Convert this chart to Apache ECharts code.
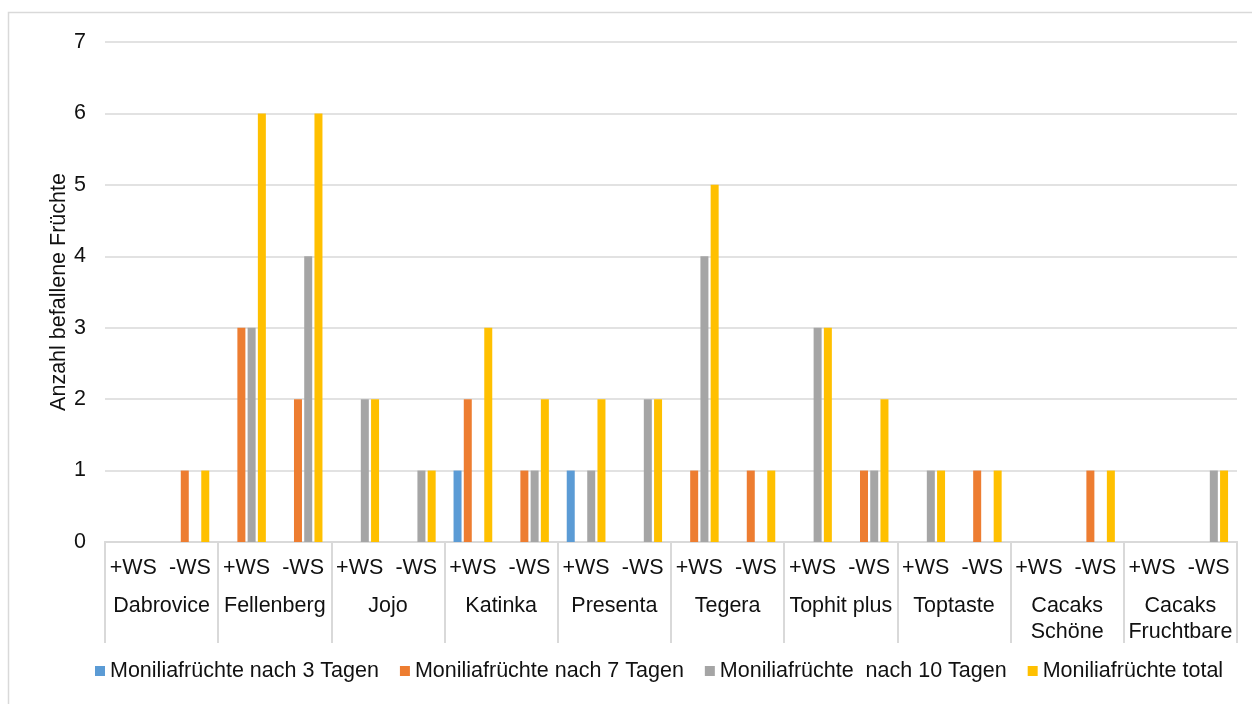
<!DOCTYPE html>
<html>
<head>
<meta charset="utf-8">
<script src="https://cdn.jsdelivr.net/npm/echarts@6/dist/echarts.min.js"></script>
<style>
  html, body { margin: 0; padding: 0; background: #fff; }
  #chart { width: 1252px; height: 704px; }
</style>
</head>
<body>
<div id="chart"></div>
<script>
// Varieties (outer category level) and treatments (inner level)
const varieties = ['Dabrovice', 'Fellenberg', 'Jojo', 'Katinka', 'Presenta', 'Tegera',
  'Tophit plus', 'Toptaste', 'Cacaks\nSchöne', 'Cacaks\nFruchtbare'];
const treatments = ['+WS', '-WS'];

// Inner category labels: one per variety x treatment
const categories = [];
varieties.forEach(() => treatments.forEach(t => categories.push(t)));

// Number of infested fruits, in order Dabrovice +WS, Dabrovice -WS, Fellenberg +WS, ...
const after3Days  = [0, 0, 0, 0, 0, 0, 1, 0, 1, 0, 0, 0, 0, 0, 0, 0, 0, 0, 0, 0];
const after7Days  = [0, 1, 3, 2, 0, 0, 2, 1, 0, 0, 1, 1, 0, 1, 0, 1, 0, 1, 0, 0];
const after10Days = [0, 0, 3, 4, 2, 1, 0, 1, 1, 2, 4, 0, 3, 1, 1, 0, 0, 0, 0, 1];
const totalFruits = [0, 1, 6, 6, 2, 1, 3, 2, 2, 2, 5, 1, 3, 2, 1, 1, 0, 1, 0, 1];

const seriesNames = ['Moniliafrüchte nach 3 Tagen', 'Moniliafrüchte nach 7 Tagen',
  'Moniliafrüchte  nach 10 Tagen', 'Moniliafrüchte total'];
const seriesColors = ['#5B9BD5', '#ED7D31', '#A5A5A5', '#FFC000'];
const seriesData = [after3Days, after7Days, after10Days, totalFruits];

const yTicks = { min: 0, max: 7, interval: 1 };

const FONT = '"Liberation Sans", Arial, sans-serif';
const FS = 21.5;
const TEXT = '#111';
const LINE = '#d9d9d9';

const chart = echarts.init(document.getElementById('chart'), null, { renderer: 'canvas' });

chart.setOption({
  animation: false,
  backgroundColor: '#fff',
  textStyle: { fontFamily: FONT, color: TEXT },
  graphic: [{
    type: 'rect',
    shape: { x: 8.5, y: 12.5, width: 1300, height: 760 },
    style: { fill: 'none', stroke: LINE, lineWidth: 1.5 },
    silent: true,
    z: -10
  }],
  grid: { left: 105, right: 15, top: 42, bottom: 162, containLabel: false },
  legend: {
    left: 90,
    top: 655,
    itemWidth: 10,
    itemHeight: 10,
    itemGap: 21,
    icon: 'rect',
    textStyle: { fontSize: FS, fontFamily: FONT, color: TEXT },
    data: seriesNames
  },
  xAxis: [{
    type: 'category',
    data: categories,
    position: 'bottom',
    axisLine: { show: true, lineStyle: { color: LINE, width: 2 } },
    axisTick: { show: false },
    axisLabel: { interval: 0, margin: 15, fontSize: FS, lineHeight: 22, color: TEXT, fontFamily: FONT }
  }, {
    type: 'category',
    data: varieties,
    position: 'bottom',
    axisLine: { show: true, lineStyle: { color: LINE, width: 2 } },
    axisTick: { show: true, length: 101, lineStyle: { color: LINE, width: 2 } },
    axisLabel: { interval: 0, margin: 51, fontSize: FS, lineHeight: 26, color: TEXT, fontFamily: FONT, align: 'center' },
    splitLine: { show: false }
  }],
  yAxis: {
    type: 'value',
    min: yTicks.min,
    max: yTicks.max,
    interval: yTicks.interval,
    name: 'Anzahl befallene Früchte',
    nameLocation: 'middle',
    nameGap: 35,
    nameRotate: 90,
    nameMoveOverlap: false,
    nameTextStyle: { fontSize: FS, color: TEXT, fontFamily: FONT },
    axisLine: { show: false },
    axisTick: { show: false },
    axisLabel: { fontSize: FS, margin: 19, color: TEXT, fontFamily: FONT },
    splitLine: { lineStyle: { color: LINE, width: 1.5 } }
  },
  series: seriesNames.map((name, i) => ({
    name: name,
    type: 'bar',
    xAxisIndex: 0,
    data: seriesData[i],
    barWidth: 8,
    barGap: '28%',
    itemStyle: { color: seriesColors[i] }
  }))
});
</script>
</body>
</html>
